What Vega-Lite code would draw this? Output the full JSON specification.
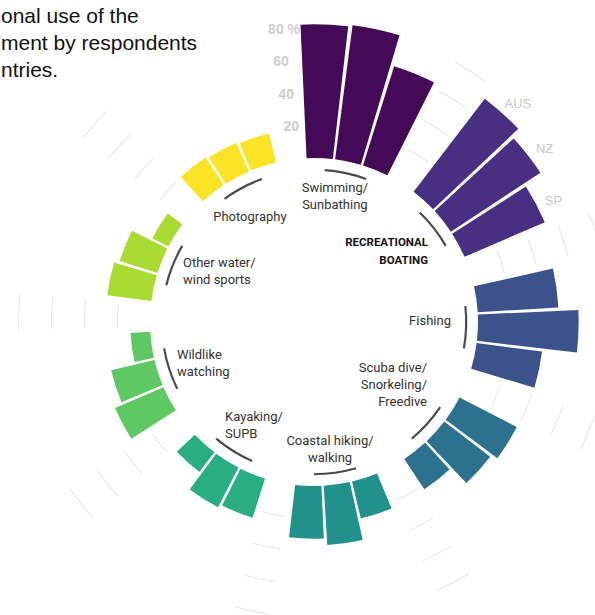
{
  "$schema": "https://vega.github.io/schema/vega-lite/v6.json",
  "width": 554,
  "height": 586,
  "autosize": {"type": "none"},
  "padding": {"left": 37, "top": 29, "right": 4, "bottom": 0},
  "background": "white",
  "title": {
    "text": ["onal use of the", "ment by respondents", "ntries."],
    "anchor": "start", "frame": "group", "orient": "top", "offset": -75,
    "dx": -36, "baseline": "alphabetic", "lineHeight": 27,
    "font": "Liberation Sans", "fontSize": 21, "fontWeight": "normal", "color": "#111111"
  },
  "config": {"view": {"stroke": null}},
  "datasets": {
    "bars": [
      {"category": "Swimming", "country": "AUS", "slot": "Swimming AUS", "value": 81},
      {"category": "Swimming", "country": "NZ", "slot": "Swimming NZ", "value": 82},
      {"category": "Swimming", "country": "SP", "slot": "Swimming SP", "value": 63},
      {"category": "Boating", "country": "AUS", "slot": "Boating AUS", "value": 71},
      {"category": "Boating", "country": "NZ", "slot": "Boating NZ", "value": 65},
      {"category": "Boating", "country": "SP", "slot": "Boating SP", "value": 53},
      {"category": "Fishing", "country": "AUS", "slot": "Fishing AUS", "value": 49},
      {"category": "Fishing", "country": "NZ", "slot": "Fishing NZ", "value": 61},
      {"category": "Fishing", "country": "SP", "slot": "Fishing SP", "value": 40},
      {"category": "Scuba", "country": "AUS", "slot": "Scuba AUS", "value": 39},
      {"category": "Scuba", "country": "NZ", "slot": "Scuba NZ", "value": 35},
      {"category": "Scuba", "country": "SP", "slot": "Scuba SP", "value": 22},
      {"category": "Hiking", "country": "AUS", "slot": "Hiking AUS", "value": 23},
      {"category": "Hiking", "country": "NZ", "slot": "Hiking NZ", "value": 36},
      {"category": "Hiking", "country": "SP", "slot": "Hiking SP", "value": 32},
      {"category": "Kayaking", "country": "AUS", "slot": "Kayaking AUS", "value": 25},
      {"category": "Kayaking", "country": "NZ", "slot": "Kayaking NZ", "value": 27},
      {"category": "Kayaking", "country": "SP", "slot": "Kayaking SP", "value": 15},
      {"category": "Wildlife", "country": "AUS", "slot": "Wildlife AUS", "value": 32},
      {"category": "Wildlife", "country": "NZ", "slot": "Wildlife NZ", "value": 27},
      {"category": "Wildlife", "country": "SP", "slot": "Wildlife SP", "value": 12},
      {"category": "Wind sports", "country": "AUS", "slot": "Wind sports AUS", "value": 27},
      {"category": "Wind sports", "country": "NZ", "slot": "Wind sports NZ", "value": 24},
      {"category": "Wind sports", "country": "SP", "slot": "Wind sports SP", "value": 11},
      {"category": "Photography", "country": "AUS", "slot": "Photography AUS", "value": 20},
      {"category": "Photography", "country": "NZ", "slot": "Photography NZ", "value": 19},
      {"category": "Photography", "country": "SP", "slot": "Photography SP", "value": 18}
    ],
    "cats": [
      {"category": "Swimming", "label": "Swimming/\nSunbathing"},
      {"category": "Boating", "label": "RECREATIONAL\nBOATING"},
      {"category": "Fishing", "label": "Fishing"},
      {"category": "Scuba", "label": "Scuba dive/\nSnorkeling/\nFreedive"},
      {"category": "Hiking", "label": "Coastal hiking/\nwalking"},
      {"category": "Kayaking", "label": "Kayaking/\nSUPB"},
      {"category": "Wildlife", "label": "Wildlike\nwatching"},
      {"category": "Wind sports", "label": "Other water/\nwind sports"},
      {"category": "Photography", "label": "Photography"}
    ],
    "ticks": [
      {"tick": 20, "label": "20"},
      {"tick": 40, "label": "40"},
      {"tick": 60, "label": "60"},
      {"tick": 80, "label": "80 %"}
    ],
    "grid": [
      {"gap": "gap1", "level": 20}, {"gap": "gap1", "level": 40}, {"gap": "gap1", "level": 60}, {"gap": "gap1", "level": 80},
      {"gap": "gap2", "level": 20}, {"gap": "gap2", "level": 40}, {"gap": "gap2", "level": 60}, {"gap": "gap2", "level": 80},
      {"gap": "gap3", "level": 20}, {"gap": "gap3", "level": 40}, {"gap": "gap3", "level": 60}, {"gap": "gap3", "level": 80},
      {"gap": "gap4", "level": 20}, {"gap": "gap4", "level": 40}, {"gap": "gap4", "level": 60}, {"gap": "gap4", "level": 80},
      {"gap": "gap5", "level": 20}, {"gap": "gap5", "level": 40}, {"gap": "gap5", "level": 60}, {"gap": "gap5", "level": 80},
      {"gap": "gap6", "level": 20}, {"gap": "gap6", "level": 40}, {"gap": "gap6", "level": 60}, {"gap": "gap6", "level": 80},
      {"gap": "gap7", "level": 20}, {"gap": "gap7", "level": 40}, {"gap": "gap7", "level": 60}, {"gap": "gap7", "level": 80},
      {"gap": "gap8", "level": 20}, {"gap": "gap8", "level": 40}, {"gap": "gap8", "level": 60}, {"gap": "gap8", "level": 80}
    ]
  },
  "layer": [
    {
      "data": {"name": "grid"},
      "mark": {"type": "arc", "fill": "#e6e6e6", "radius2Offset": -1},
      "encoding": {
        "theta": {"field": "gap", "type": "nominal", "scale": {"type": "band", "domain": ["Swimming AUS","Swimming NZ","Swimming SP","gap1","Boating AUS","Boating NZ","Boating SP","gap2","Fishing AUS","Fishing NZ","Fishing SP","gap3","Scuba AUS","Scuba NZ","Scuba SP","gap4","Hiking AUS","Hiking NZ","Hiking SP","gap5","Kayaking AUS","Kayaking NZ","Kayaking SP","gap6","Wildlife AUS","Wildlife NZ","Wildlife SP","gap7","Wind sports AUS","Wind sports NZ","Wind sports SP","gap8","Photography AUS","Photography NZ","Photography SP","gap9"], "range": [-0.0523599, 6.2308254], "paddingInner": 0.3, "paddingOuter": 0.15}},
        "radius": {"field": "level", "type": "quantitative", "scale": {"type": "linear", "domain": [0, 100], "range": [164, 329]}},
        "radius2": {"field": "level"}
      }
    },
    {
      "data": {"name": "bars"},
      "mark": {"type": "arc"},
      "encoding": {
        "theta": {"field": "slot", "type": "nominal", "scale": {"type": "band", "domain": ["Swimming AUS","Swimming NZ","Swimming SP","gap1","Boating AUS","Boating NZ","Boating SP","gap2","Fishing AUS","Fishing NZ","Fishing SP","gap3","Scuba AUS","Scuba NZ","Scuba SP","gap4","Hiking AUS","Hiking NZ","Hiking SP","gap5","Kayaking AUS","Kayaking NZ","Kayaking SP","gap6","Wildlife AUS","Wildlife NZ","Wildlife SP","gap7","Wind sports AUS","Wind sports NZ","Wind sports SP","gap8","Photography AUS","Photography NZ","Photography SP","gap9"], "range": [-0.0523599, 6.2308254], "paddingInner": 0.08, "paddingOuter": 0.04}},
        "radius": {"field": "value", "type": "quantitative", "scale": {"type": "linear", "domain": [0, 100], "range": [164, 329]}},
        "radius2": {"datum": 0},
        "color": {"field": "category", "type": "nominal", "legend": null, "scale": {"domain": ["Swimming","Boating","Fishing","Scuba","Hiking","Kayaking","Wildlife","Wind sports","Photography"], "range": ["#440a57","#482f81","#3b528b","#2c718e","#21918c","#28ae80","#5ec962","#a9db33","#fbe426"]}}
      }
    },
    {
      "data": {"name": "cats"},
      "mark": {"type": "arc", "fill": "#4a4a4a"},
      "encoding": {
        "theta": {"field": "category", "type": "nominal", "scale": {"type": "band", "domain": ["Swimming","Boating","Fishing","Scuba","Hiking","Kayaking","Wildlife","Wind sports","Photography"], "range": [-0.1396263, 6.1435590], "paddingInner": 0.6, "paddingOuter": 0.3}},
        "radius": {"datum": -6.5, "type": "quantitative", "scale": {"type": "linear", "domain": [0, 100], "range": [164, 329]}},
        "radius2": {"datum": -7.8}
      }
    },
    {
      "data": {"name": "cats"},
      "transform": [{"filter": {"field": "category", "oneOf": ["Photography"]}}],
      "mark": {"type": "text", "align": "center", "baseline": "middle", "lineBreak": "\n", "lineHeight": 17, "thetaOffset": -0.059, "font": "Roboto", "fontSize": 13, "fill": "#333333"},
      "encoding": {
        "theta": {"field": "category", "type": "nominal", "bandPosition": 0.5, "scale": {"type": "band", "domain": ["Swimming","Boating","Fishing","Scuba","Hiking","Kayaking","Wildlife","Wind sports","Photography"], "range": [-0.1396263, 6.1435590], "paddingInner": 0.6, "paddingOuter": 0.3}},
        "radius": {"datum": -24.8, "type": "quantitative", "scale": {"type": "linear", "domain": [0, 100], "range": [164, 329]}},
        "text": {"field": "label"}
      }
    },
    {
      "data": {"name": "cats"},
      "transform": [{"filter": {"field": "category", "oneOf": ["Swimming"]}}],
      "mark": {"type": "text", "align": "center", "baseline": "middle", "lineBreak": "\n", "lineHeight": 17, "dy": -8.5, "thetaOffset": -0.044, "font": "Roboto", "fontSize": 13, "fill": "#333333"},
      "encoding": {
        "theta": {"field": "category", "type": "nominal", "bandPosition": 0.5, "scale": {"type": "band", "domain": ["Swimming","Boating","Fishing","Scuba","Hiking","Kayaking","Wildlife","Wind sports","Photography"], "range": [-0.1396263, 6.1435590], "paddingInner": 0.6, "paddingOuter": 0.3}},
        "radius": {"datum": -22.5, "type": "quantitative", "scale": {"type": "linear", "domain": [0, 100], "range": [164, 329]}},
        "text": {"field": "label"}
      }
    },
    {
      "data": {"name": "cats"},
      "transform": [{"filter": {"field": "category", "oneOf": ["Hiking"]}}],
      "mark": {"type": "text", "align": "center", "baseline": "middle", "lineBreak": "\n", "lineHeight": 17, "dy": -8.5, "thetaOffset": 0.014, "font": "Roboto", "fontSize": 13, "fill": "#333333"},
      "encoding": {
        "theta": {"field": "category", "type": "nominal", "bandPosition": 0.5, "scale": {"type": "band", "domain": ["Swimming","Boating","Fishing","Scuba","Hiking","Kayaking","Wildlife","Wind sports","Photography"], "range": [-0.1396263, 6.1435590], "paddingInner": 0.6, "paddingOuter": 0.3}},
        "radius": {"datum": -21.8, "type": "quantitative", "scale": {"type": "linear", "domain": [0, 100], "range": [164, 329]}},
        "text": {"field": "label"}
      }
    },
    {
      "data": {"name": "cats"},
      "transform": [{"filter": {"field": "category", "oneOf": ["Kayaking"]}}],
      "mark": {"type": "text", "align": "left", "baseline": "middle", "lineBreak": "\n", "lineHeight": 17, "dy": -8.5, "thetaOffset": 0.154, "font": "Roboto", "fontSize": 13, "fill": "#333333"},
      "encoding": {
        "theta": {"field": "category", "type": "nominal", "bandPosition": 0.5, "scale": {"type": "band", "domain": ["Swimming","Boating","Fishing","Scuba","Hiking","Kayaking","Wildlife","Wind sports","Photography"], "range": [-0.1396263, 6.1435590], "paddingInner": 0.6, "paddingOuter": 0.3}},
        "radius": {"datum": -16.9, "type": "quantitative", "scale": {"type": "linear", "domain": [0, 100], "range": [164, 329]}},
        "text": {"field": "label"}
      }
    },
    {
      "data": {"name": "cats"},
      "transform": [{"filter": {"field": "category", "oneOf": ["Wildlife"]}}],
      "mark": {"type": "text", "align": "left", "baseline": "middle", "lineBreak": "\n", "lineHeight": 17, "dy": -8.5, "thetaOffset": 0.017, "font": "Roboto", "fontSize": 13, "fill": "#333333"},
      "encoding": {
        "theta": {"field": "category", "type": "nominal", "bandPosition": 0.5, "scale": {"type": "band", "domain": ["Swimming","Boating","Fishing","Scuba","Hiking","Kayaking","Wildlife","Wind sports","Photography"], "range": [-0.1396263, 6.1435590], "paddingInner": 0.6, "paddingOuter": 0.3}},
        "radius": {"datum": -12.5, "type": "quantitative", "scale": {"type": "linear", "domain": [0, 100], "range": [164, 329]}},
        "text": {"field": "label"}
      }
    },
    {
      "data": {"name": "cats"},
      "transform": [{"filter": {"field": "category", "oneOf": ["Wind sports"]}}],
      "mark": {"type": "text", "align": "left", "baseline": "middle", "lineBreak": "\n", "lineHeight": 17, "dy": -8.5, "thetaOffset": -0.019, "font": "Roboto", "fontSize": 13, "fill": "#333333"},
      "encoding": {
        "theta": {"field": "category", "type": "nominal", "bandPosition": 0.5, "scale": {"type": "band", "domain": ["Swimming","Boating","Fishing","Scuba","Hiking","Kayaking","Wildlife","Wind sports","Photography"], "range": [-0.1396263, 6.1435590], "paddingInner": 0.6, "paddingOuter": 0.3}},
        "radius": {"datum": -14.4, "type": "quantitative", "scale": {"type": "linear", "domain": [0, 100], "range": [164, 329]}},
        "text": {"field": "label"}
      }
    },
    {
      "data": {"name": "cats"},
      "transform": [{"filter": {"field": "category", "oneOf": ["Fishing"]}}],
      "mark": {"type": "text", "align": "right", "baseline": "middle", "lineBreak": "\n", "lineHeight": 17, "thetaOffset": -0.042, "font": "Roboto", "fontSize": 13, "fill": "#333333"},
      "encoding": {
        "theta": {"field": "category", "type": "nominal", "bandPosition": 0.5, "scale": {"type": "band", "domain": ["Swimming","Boating","Fishing","Scuba","Hiking","Kayaking","Wildlife","Wind sports","Photography"], "range": [-0.1396263, 6.1435590], "paddingInner": 0.6, "paddingOuter": 0.3}},
        "radius": {"datum": -16.4, "type": "quantitative", "scale": {"type": "linear", "domain": [0, 100], "range": [164, 329]}},
        "text": {"field": "label"}
      }
    },
    {
      "data": {"name": "cats"},
      "transform": [{"filter": {"field": "category", "oneOf": ["Scuba"]}}],
      "mark": {"type": "text", "align": "right", "baseline": "middle", "lineBreak": "\n", "lineHeight": 17, "dy": -17, "thetaOffset": -0.225, "font": "Roboto", "fontSize": 13, "fill": "#333333"},
      "encoding": {
        "theta": {"field": "category", "type": "nominal", "bandPosition": 0.5, "scale": {"type": "band", "domain": ["Swimming","Boating","Fishing","Scuba","Hiking","Kayaking","Wildlife","Wind sports","Photography"], "range": [-0.1396263, 6.1435590], "paddingInner": 0.6, "paddingOuter": 0.3}},
        "radius": {"datum": -21, "type": "quantitative", "scale": {"type": "linear", "domain": [0, 100], "range": [164, 329]}},
        "text": {"field": "label"}
      }
    },
    {
      "data": {"name": "cats"},
      "transform": [{"filter": {"field": "category", "oneOf": ["Boating"]}}],
      "mark": {"type": "text", "align": "right", "baseline": "middle", "lineBreak": "\n", "lineHeight": 18, "dy": -9, "thetaOffset": 0.112, "font": "Roboto", "fontSize": 11.5, "fontWeight": "bold", "fill": "#111111"},
      "encoding": {
        "theta": {"field": "category", "type": "nominal", "bandPosition": 0.5, "scale": {"type": "band", "domain": ["Swimming","Boating","Fishing","Scuba","Hiking","Kayaking","Wildlife","Wind sports","Photography"], "range": [-0.1396263, 6.1435590], "paddingInner": 0.6, "paddingOuter": 0.3}},
        "radius": {"datum": -18.3, "type": "quantitative", "scale": {"type": "linear", "domain": [0, 100], "range": [164, 329]}},
        "text": {"field": "label"}
      }
    },
    {
      "data": {"name": "ticks"},
      "mark": {"type": "text", "align": "left", "baseline": "middle", "thetaOffset": -0.016, "font": "Liberation Sans", "fontSize": 14, "fontWeight": "bold", "fill": "#cdcdcd"},
      "encoding": {
        "theta": {"datum": "gap9", "type": "nominal", "bandPosition": 0.5, "scale": {"type": "band", "domain": ["Swimming AUS","Swimming NZ","Swimming SP","gap1","Boating AUS","Boating NZ","Boating SP","gap2","Fishing AUS","Fishing NZ","Fishing SP","gap3","Scuba AUS","Scuba NZ","Scuba SP","gap4","Hiking AUS","Hiking NZ","Hiking SP","gap5","Kayaking AUS","Kayaking NZ","Kayaking SP","gap6","Wildlife AUS","Wildlife NZ","Wildlife SP","gap7","Wind sports AUS","Wind sports NZ","Wind sports SP","gap8","Photography AUS","Photography NZ","Photography SP","gap9"], "range": [-0.0523599, 6.2308254], "paddingInner": 0.08, "paddingOuter": 0.04}},
        "radius": {"field": "tick", "type": "quantitative", "scale": {"type": "linear", "domain": [0, 100], "range": [164, 329]}},
        "text": {"field": "label"}
      }
    },
    {
      "data": {"name": "bars"},
      "transform": [{"filter": {"field": "category", "equal": "Boating"}}],
      "mark": {"type": "text", "align": "center", "baseline": "middle", "radiusOffset": 17, "thetaOffset": 0.02, "font": "Liberation Sans", "fontSize": 13, "fill": "#c8c8c8"},
      "encoding": {
        "theta": {"field": "slot", "type": "nominal", "bandPosition": 0.5, "scale": {"type": "band", "domain": ["Swimming AUS","Swimming NZ","Swimming SP","gap1","Boating AUS","Boating NZ","Boating SP","gap2","Fishing AUS","Fishing NZ","Fishing SP","gap3","Scuba AUS","Scuba NZ","Scuba SP","gap4","Hiking AUS","Hiking NZ","Hiking SP","gap5","Kayaking AUS","Kayaking NZ","Kayaking SP","gap6","Wildlife AUS","Wildlife NZ","Wildlife SP","gap7","Wind sports AUS","Wind sports NZ","Wind sports SP","gap8","Photography AUS","Photography NZ","Photography SP","gap9"], "range": [-0.0523599, 6.2308254], "paddingInner": 0.08, "paddingOuter": 0.04}},
        "radius": {"field": "value", "type": "quantitative", "scale": {"type": "linear", "domain": [0, 100], "range": [164, 329]}},
        "text": {"field": "country"}
      }
    }
  ],
  "resolve": {"scale": {"theta": "independent", "radius": "independent", "color": "independent"}}
}
